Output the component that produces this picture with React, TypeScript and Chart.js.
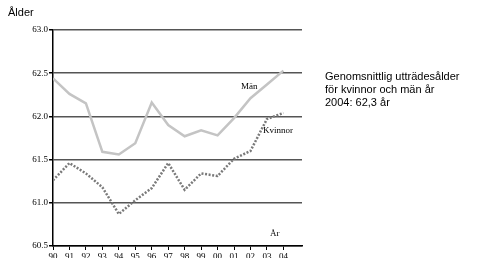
import React, { useEffect, useRef } from "react";
import { Chart, registerables } from "chart.js";

Chart.register(...registerables);

const years = ["90", "91", "92", "93", "94", "95", "96", "97", "98", "99", "00", "01", "02", "03", "04"];
const man = [62.44, 62.26, 62.15, 61.59, 61.56, 61.69, 62.16, 61.9, 61.77, 61.84, 61.78, 61.98, 62.21, 62.37, 62.53];
const kvinnor = [61.26, 61.46, 61.34, 61.18, 60.87, 61.03, 61.17, 61.46, 61.15, 61.34, 61.31, 61.51, 61.6, 61.97, 62.04];
const yTicks = [60.5, 61.0, 61.5, 62.0, 62.5, 63.0];

const SERIF = "'Liberation Serif', 'Times New Roman', serif";
const SANS = "'Liberation Sans', Arial, sans-serif";

const textPlugin = {
  id: "texts",
  afterDraw(chart: any) {
    const ctx = chart.ctx;
    ctx.save();
    ctx.fillStyle = "#000";
    ctx.textBaseline = "middle";
    ctx.font = `11px ${SANS}`;
    ctx.fillText("Ålder", 8, 13);
    ctx.fillText("Genomsnittlig utträdesålder", 325, 77);
    ctx.fillText("för kvinnor och män år", 325, 90);
    ctx.fillText("2004: 62,3 år", 325, 103);
    ctx.font = `9px ${SERIF}`;
    ctx.fillText("Män", 241, 87);
    ctx.fillText("Kvinnor", 263, 131);
    ctx.fillText("År", 270, 234);
    ctx.restore();
  },
};

export default function App() {
  const ref = useRef<HTMLCanvasElement>(null);
  useEffect(() => {
    if (!ref.current) return;
    const chart = new Chart(ref.current, {
      type: "line",
      data: {
        datasets: [
          {
            label: "Män",
            data: man.map((v, i) => ({ x: i, y: v })),
            borderColor: "#c4c4c4",
            borderWidth: 2.5,
            pointRadius: 0,
            tension: 0,
          },
          {
            label: "Kvinnor",
            data: kvinnor.map((v, i) => ({ x: i, y: v })),
            borderColor: "#7a7a7a",
            borderWidth: 2.5,
            borderDash: [2, 1.6],
            pointRadius: 0,
            tension: 0,
          },
        ],
      },
      options: {
        animation: false,
        responsive: false,
        maintainAspectRatio: false,
        layout: { padding: { top: 30, right: 189, left: 0, bottom: 0 } },
        plugins: { legend: { display: false }, tooltip: { enabled: false } },
        scales: {
          x: {
            type: "linear",
            min: 0,
            max: 15.13,
            afterBuildTicks: (scale: any) => {
              scale.ticks = years.map((_, i) => ({ value: i }));
            },
            afterFit: (scale: any) => {
              scale.height = 24;
            },
            ticks: {
              autoSkip: false,
              maxRotation: 0,
              padding: 1,
              color: "#000",
              font: { family: SERIF, size: 9 },
              callback: (v: any) => years[v] ?? "",
            },
            grid: { drawOnChartArea: false, drawTicks: true, tickLength: 4, tickColor: "#000", lineWidth: 1 },
            border: { color: "#000", width: 1.5 },
          },
          y: {
            min: 60.5,
            max: 63.0,
            afterBuildTicks: (scale: any) => {
              scale.ticks = yTicks.map((v) => ({ value: v }));
            },
            afterFit: (scale: any) => {
              scale.width = 53;
            },
            ticks: {
              padding: 1,
              color: "#000",
              font: { family: SERIF, size: 9 },
              callback: (v: any) => Number(v).toFixed(1),
            },
            grid: { color: "#555", lineWidth: 1.5, tickLength: 4, tickColor: "#000" },
            border: { color: "#000", width: 1.5 },
          },
        },
      },
      plugins: [textPlugin],
    });
    return () => chart.destroy();
  }, []);
  return (
    <canvas
      ref={ref}
      width={491}
      height={270}
      style={{ position: "fixed", left: 0, top: 0, width: 491, height: 270, background: "#fff" }}
    />
  );
}
